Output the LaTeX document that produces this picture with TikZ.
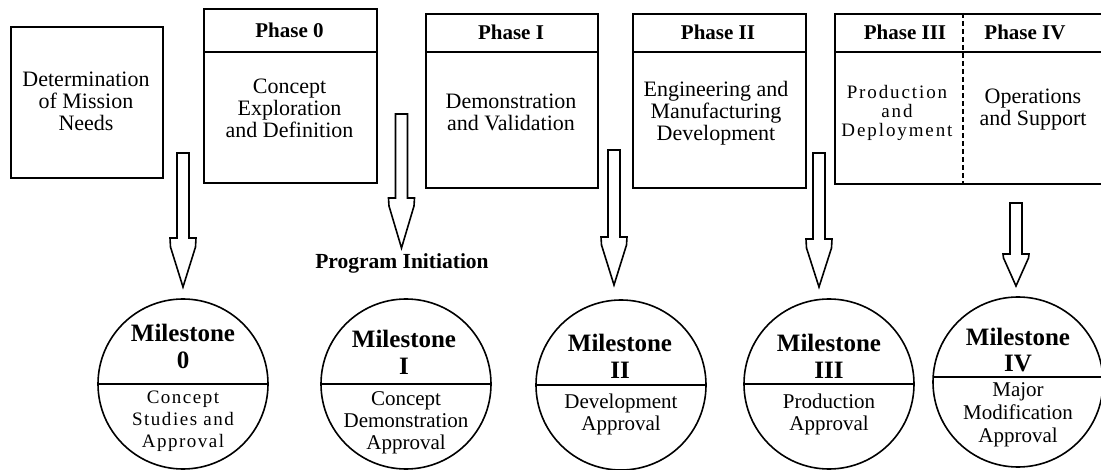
\documentclass[tikz,border=0pt]{standalone}
\usepackage{fontspec}
\usetikzlibrary{calc}
\setmainfont{Liberation Serif}
\newfontfamily\spacedfont[LetterSpace=10]{Liberation Serif}
\newfontfamily\lightspaced[LetterSpace=8]{Liberation Serif}
\newcommand\myfs[2]{\fontsize{#1}{#2}\selectfont}
\begin{document}
\begin{tikzpicture}[x=1pt,y=-1pt,
  boxst/.style={draw, line width=1.6pt, inner sep=0pt, anchor=north west},
  rule/.style={line width=1.6pt},
  hdr/.style={font=\bfseries\myfs{21}{22}, inner sep=0pt},
  body/.style={align=center, font=\myfs{22}{22}, inner sep=0pt},
  msbox/.style={circle, draw, line width=1.6pt, minimum size=170pt, inner sep=0pt},
  mstitle/.style={align=center, font=\bfseries\myfs{25}{27}, inner sep=0pt},
  mssub/.style={align=center, font=\myfs{21}{22}, inner sep=0pt},
  blk/.style={draw, line width=1.6pt, fill=white, line join=miter}]
\useasboundingbox (0,0) rectangle (1101,470);

% boxes
\node[boxst, minimum width=152pt, minimum height=151pt] (needs) at (10,26) {};
\node[body] (needst) at (86,101) {Determination\\of Mission\\Needs};

\node[boxst, minimum width=173pt, minimum height=174pt] (p0) at (203,8) {};
\draw[rule] (203,52) -- (376,52);
\node[hdr] (p0h) at (289.5,30) {Phase 0};
\node[body] (p0b) at (289.5,108) {Concept\\Exploration\\and Definition};

\node[boxst, minimum width=172pt, minimum height=174pt] (p1) at (425,13) {};
\draw[rule] (425,52) -- (597,52);
\node[hdr] (p1h) at (511,32.5) {Phase I};
\node[body] (p1b) at (511,112) {Demonstration\\and Validation};

\node[boxst, minimum width=173pt, minimum height=174pt] (p2) at (632,13) {};
\draw[rule] (632,52) -- (805,52);
\node[hdr] (p2h) at (718,32.5) {Phase II};
\node[body] (p2b) at (716,113) {Engineering and\\Manufacturing\\Development};

\node[boxst, minimum width=300pt, minimum height=170pt] (p34) at (834,13) {};
\draw[rule] (834,52) -- (1134,52);
\draw[line width=1.6pt, dash pattern=on 5pt off 3pt] (963,13) -- (963,183);
\node[hdr] (p3h) at (905,32.5) {Phase III};
\node[hdr] (p4h) at (1025,32.5) {Phase IV};
\node[align=center, inner sep=0pt, font=\spacedfont\myfs{19}{19}] (p3b) at (897,113) {Production\\and\\Deployment};
\node[body] (p4b) at (1033,110) {Operations\\and Support};

% block arrows
\foreach \n/\x/\t/\s/\v/\p in {a0/183/153/238/9/287, a1/401.5/114/198/8/248, a2/614/150/237/8/285, a3/819/153/239/9/287, a4/1016/203/254/4/286}{
  \draw[blk] (\x-6,\t) -- (\x-6,\s) -- (\x-13,\s) -- (\x-12.5,\s+\v) -- (\x,\p) -- (\x+12.5,\s+\v) -- (\x+13,\s) -- (\x+6,\s) -- (\x+6,\t) -- cycle;
  \coordinate (\n tip) at (\x,\p);
}

\node[font=\bfseries\myfs{21.5}{22}, inner sep=0pt] (pinit) at (402,263) {Program Initiation};

% milestones
\node[msbox] (m0) at (183,384) {};
\node[msbox] (m1) at (406,384) {};
\node[msbox] (m2) at (621,385) {};
\node[msbox] (m3) at (829,384) {};
\node[msbox] (m4) at (1018,382) {};
\foreach \m in {m0,m1,m2,m3}{\draw[rule] (\m.west) -- (\m.east);}
\draw[rule] ($(m4.center)+(-84.85,-5)$) -- ($(m4.center)+(84.85,-5)$);

\node[mstitle] (m0t) at (183,346) {Milestone\\0};
\node[mssub, font=\lightspaced\myfs{19}{22}] (m0s) at (183,421) {Concept\\Studies and\\Approval};
\node[mstitle] (m1t) at (404,352) {Milestone\\I};
\node[mssub] (m1s) at (406,423) {Concept\\Demonstration\\Approval};
\node[mstitle] (m2t) at (620,356) {Milestone\\II};
\node[mssub] (m2s) at (621,414) {Development\\Approval};
\node[mstitle] (m3t) at (829,356) {Milestone\\III};
\node[mssub] (m3s) at (829,414) {Production\\Approval};
\node[mstitle, font=\bfseries\myfs{25}{26}] (m4t) at (1018,350) {Milestone\\IV};
\node[mssub, font=\myfs{21}{23}] (m4s) at (1018,415) {Major\\Modification\\Approval};
\end{tikzpicture}
\end{document}
